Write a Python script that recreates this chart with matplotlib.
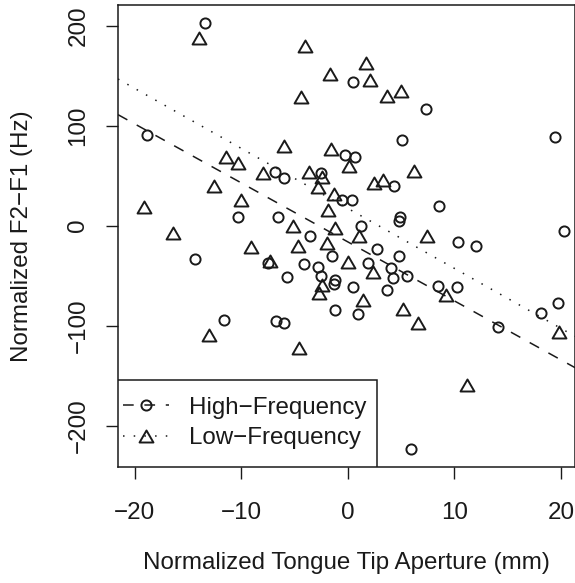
import matplotlib
matplotlib.use("Agg")
import matplotlib.pyplot as plt
from matplotlib.lines import Line2D
from matplotlib.patches import Rectangle
from matplotlib.path import Path

plt.rcParams["font.family"] = ["Liberation Sans", "DejaVu Sans"]
plt.rcParams["font.size"] = 17.4

# High-Frequency tokens (circles)
hf_x = [-13.35, -18.8, -0.25, 0.68, -6.8, -5.98, -2.48, -0.56, 0.38, -10.3,
        -6.5, -3.5, 0.53, 7.35, 19.45, 5.12, 4.34, 8.56, 4.9, 4.84,
        20.3, 1.22, 10.38, 12.0, 2.75, 4.84, 1.93, 4.03, 4.22, 5.6,
        0.5, 3.66, 8.5, 10.28, 1.0, 19.7, 18.1, 14.1, 5.94, -14.35,
        -7.48, -4.1, -2.8, -1.44, -5.67, -2.48, -1.22, -1.28, -1.22, -11.6,
        -6.7, -6.0]
hf_y = [203, 91, 71, 69, 54, 48, 53, 25.7, 25.7, 9,
        9, -10, 143.4, 116.4, 88.4, 85.7, 39.7, 19.7, 9, 5,
        -5, -0.5, -16, -20, -23, -30, -37.6, -42.6, -52, -50,
        -61, -64.3, -60.3, -61, -88.6, -77.6, -87.6, -101.6, -223.6, -33.3,
        -37.6, -38.3, -41, -30, -51.6, -50, -54.3, -58.6, -84.3, -94.3,
        -95.3, -97.6]

# Low-Frequency tokens (triangles)
lf_x = [-13.98, -3.98, -1.66, -4.41, -6.0, -1.6, -11.4, -10.3, -7.9, -3.66,
        -2.44, -12.57, -2.8, -1.3, -19.1, -10.0, -1.85, -5.1, -1.15, -16.4,
        0.15, 2.47, 3.28, 1.69, 2.09, 3.66, 5.0, 6.22, 1.03, 7.4,
        -1.95, -4.63, 0.06, 2.34, 9.22, 1.47, 5.22, 6.63, 19.85, 11.22,
        -9.1, -7.3, -2.4, -2.7, -13.0, -4.57]
lf_y = [188, 180, 152, 129, 80, 77, 68.4, 63, 52.4, 54,
        49, 39.7, 38.5, 32.2, 19, 25.7, 15.7, 0, -1.8, -7,
        60, 42.4, 45.7, 162.4, 145.7, 130, 135, 55, -10, -10,
        -17.5, -20.5, -36, -46.6, -69.3, -74.3, -83.3, -97.6, -106, -159.3,
        -21, -35.3, -59.3, -67.6, -109.3, -122]

# regression lines (intercept, slope)
hf_fit = (-16.1, -5.9)
lf_fit = (17.4, -6.0)

ink = "#1a1a1a"
tri = Path([(0, 0.9), (1.04, -0.9), (-1.04, -0.9), (0, 0.9)], closed=True)

fig = plt.figure(figsize=(5.75, 5.83), dpi=100)
ax = fig.add_axes([118 / 575, (583 - 466.7) / 583, 457 / 575, 461.7 / 583])

ax.plot(hf_x, hf_y, ls="none", marker="o", ms=7.3, mew=1.4, mfc="none", mec=ink)
ax.plot(lf_x, lf_y, ls="none", marker=tri, ms=10, mew=1.4, mfc="none", mec=ink)

ax.axline((0, hf_fit[0]), slope=hf_fit[1], color=ink, lw=1.1, dashes=(7, 7))
ax.axline((0, lf_fit[0]), slope=lf_fit[1], color=ink, lw=1.1, dashes=(1, 6))

ax.set_xlim(-21.55, 21.33)
ax.set_ylim(-241, 220.7)
ax.set_xticks([-20, -10, 0, 10, 20])
ax.set_yticks([-200, -100, 0, 100, 200])
ax.set_xticklabels(["\u221220", "\u221210", "0", "10", "20"])
ax.set_yticklabels(["\u2212200", "\u2212100", "0", "100", "200"], rotation=90, va="center")
ax.tick_params(length=8.6, width=1.0, colors=ink, labelcolor=ink)
ax.tick_params(axis="x", pad=17)
ax.tick_params(axis="y", pad=12)
for s in ax.spines.values():
    s.set_linewidth(1.1)
    s.set_color(ink)

ax.set_xlabel("Normalized Tongue Tip Aperture (mm)", color=ink)
ax.set_ylabel("Normalized F2\u2212F1 (Hz)", color=ink)
ax.xaxis.label.set_va("center")
ax.yaxis.label.set_va("center")
ax.xaxis.set_label_coords(0.5, (466.7 - 563) / 461.7)
ax.yaxis.set_label_coords((22 - 118) / 457, 0.5)

# legend box
ax.add_patch(Rectangle((0, 0), (377 - 118) / 457, (466.7 - 380) / 461.7,
                       transform=ax.transAxes, fill=True, facecolor="white",
                       edgecolor=ink, lw=1.1, zorder=5))
handles = [Line2D([], [], color=ink, lw=1.1, dashes=(7, 7), marker="o", ms=7.3,
                  mew=1.4, mfc="none", mec=ink),
           Line2D([], [], color=ink, lw=1.1, dashes=(1, 6), marker=tri, ms=10,
                  mew=1.4, mfc="none", mec=ink)]
leg = ax.legend(handles, ["High\u2212Frequency", "Low\u2212Frequency"],
                loc="center left", bbox_to_anchor=(5 / 457, (466.7 - 423) / 461.7),
                frameon=False, borderpad=0, borderaxespad=0, handlelength=1.9,
                handletextpad=0.85, labelspacing=0.35, fontsize=17.4)
leg.set_zorder(6)
for t in leg.get_texts():
    t.set_color(ink)

fig.savefig("out.png", dpi=100)
